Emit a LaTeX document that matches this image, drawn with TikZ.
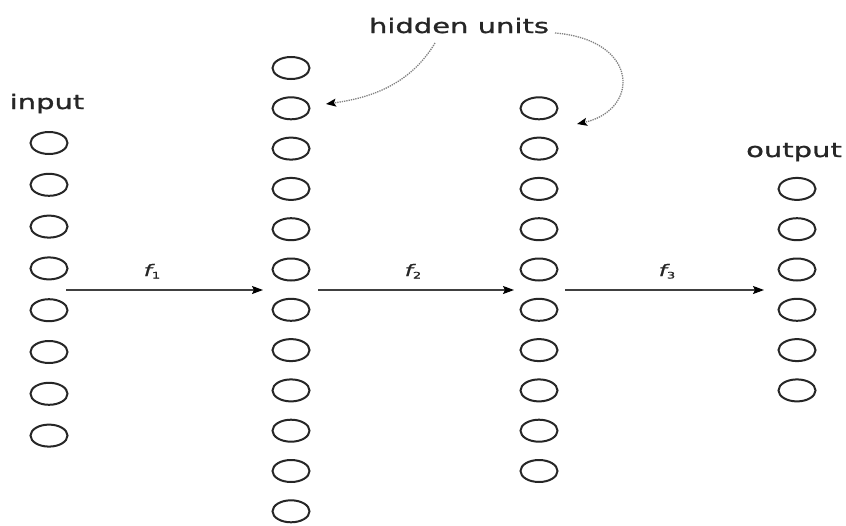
\documentclass[tikz,border=0pt]{standalone}
\usepackage{fontspec}
\usetikzlibrary{shapes.geometric,arrows.meta}
\newfontfamily\labelfont[FakeStretch=1.45,FakeBold=1.2]{DejaVu Sans}
\tikzset{
  unit/.style={draw=black!85, line width=2pt, ellipse, minimum width=37pt,
               minimum height=22pt, inner sep=0pt},
  lbl/.style={font=\labelfont\fontsize{20}{20}\selectfont, text=black!85,
              inner sep=0pt, anchor=base},
  fn/.style={font=\labelfont\fontsize{16}{16}\selectfont, text=black!85,
             inner sep=0pt, anchor=base},
  flow/.style={draw=black!75, line width=1.1pt,
               -{Stealth[length=11pt,width=8pt,inset=2pt,black]}},
  pointer/.style={draw=black!50, densely dotted, line width=1.3pt,
                  -{Stealth[length=10pt,width=8pt,inset=2pt,black]}}
}
\newcommand{\fsub}[1]{{\itshape f}\raisebox{-2.5pt}{\fontsize{9}{9}\selectfont #1}}
\begin{document}
\begin{tikzpicture}[x=1pt,y=-1pt]
\useasboundingbox (0,0) rectangle (846,525);
\fill[white] (0,0) rectangle (846,525);

% layers of units
\foreach \i in {0,...,7}  \node[unit] (in\i) at (49,143+41.8*\i) {};
\foreach \i in {0,...,11} \node[unit] (ha\i) at (291,68+40.3*\i) {};
\foreach \i in {1,...,10} \node[unit] (hb\i) at (539,68+40.3*\i) {};
\foreach \i in {3,...,8}  \node[unit] (out\i) at (797,68+40.3*\i) {};

% labels
\node[lbl] (inlbl)  at (47,109)  {input};
\node[lbl] (outlbl) at (794,157) {output};
\node[lbl] (hid)    at (459,33)  {hidden units};

% mappings between layers
\coordinate (s1) at (66,290);  \coordinate (e1) at (263,290);
\coordinate (s2) at (318,290); \coordinate (e2) at (514,290);
\coordinate (s3) at (565,290); \coordinate (e3) at (764,290);
\draw[flow] (s1) -- (e1);
\draw[flow] (s2) -- (e2);
\draw[flow] (s3) -- (e3);
\node[fn] (f1) at (152,276) {\fsub{1}};
\node[fn] (f2) at (413,276) {\fsub{2}};
\node[fn] (f3) at (667,276) {\fsub{3}};

% pointers from the hidden-units label
\coordinate (p1) at (435,43);  \coordinate (t1) at (326,104);
\coordinate (p2) at (555,33);  \coordinate (t2) at (577,124);
\draw[pointer] (p1) .. controls (410,85) and (370,98) .. (t1);
\draw[pointer] (p2) .. controls (640,40) and (640,110) .. (t2);
\end{tikzpicture}
\end{document}
